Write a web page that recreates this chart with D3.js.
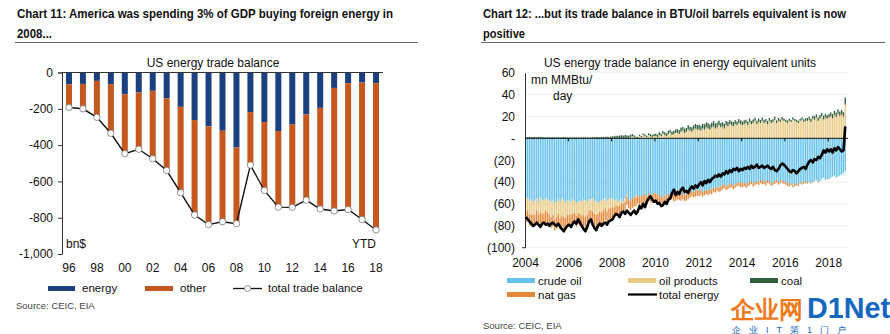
<!DOCTYPE html>
<html><head><meta charset="utf-8">
<script src="https://cdn.jsdelivr.net/npm/d3@7"></script>
<style>body{margin:0;background:#fff} text{font-family:Arial,"Liberation Sans",sans-serif;fill:#111}</style>
</head><body><svg id="c" width="890" height="334"></svg>
<script>
// ---------- Chart 11 data (bn$) ----------
const years = ['96','97','98','99','00','01','02','03','04','05','06','07','08','09','10','11','12','13','14','15','16','17','18'];
const energy = [-65,-63,-46,-64,-120,-110,-101,-143,-189,-262,-297,-321,-413,-218,-273,-323,-287,-231,-195,-85,-59,-55,-59];
const other  = [-128,-137,-201,-271,-327,-313,-374,-397,-473,-523,-541,-501,-420,-292,-377,-419,-456,-472,-557,-678,-696,-755,-809];
const totalTrade = [-193,-200,-247,-335,-447,-423,-475,-540,-662,-785,-838,-822,-833,-510,-650,-742,-743,-703,-752,-763,-755,-810,-868];
const leftTicks = [0,-200,-400,-600,-800,-1000];
const leftLabels = ['96','98','00','02','04','06','08','10','12','14','16','18'];

// ---------- Chart 12 data (mn MMBtu/day, monthly Jan 2004 - Oct 2018) ----------
const crude = [
-54,-55,-57,-56,-58,-57,-55,-58,-54,-56,-57,-55,
-56,-57,-58,-57,-59,-58,-56,-58,-55,-57,-59,-57,
-57,-58,-56,-57,-59,-58,-57,-58,-56,-57,-58,-56,
-56,-55,-58,-57,-59,-58,-57,-56,-55,-57,-56,-55,
-55,-57,-56,-58,-57,-56,-58,-55,-52,-56,-57,-55,
-54,-53,-52,-54,-53,-52,-51,-53,-50,-51,-52,-50,
-50,-51,-53,-52,-54,-53,-52,-51,-50,-49,-51,-50,
-49,-50,-51,-50,-52,-51,-50,-49,-48,-49,-48,-47,
-48,-47,-49,-48,-47,-48,-46,-47,-45,-46,-44,-45,
-44,-43,-42,-44,-43,-42,-41,-43,-42,-41,-40,-41,
-41,-40,-42,-41,-40,-39,-41,-40,-39,-40,-38,-39,
-39,-40,-38,-39,-41,-40,-39,-38,-40,-39,-38,-39,
-40,-41,-42,-41,-43,-42,-41,-42,-40,-41,-40,-39,
-40,-39,-41,-40,-39,-38,-40,-39,-37,-36,-38,-37,
-37,-36,-35,-34,-36,-35,-34,-33,-32,-30];
const products = [
-13,-11,-12,-14,-12,-13,-11,-12,-14,-13,-12,-11,
-12,-13,-14,-13,-15,-14,-13,-15,-16,-15,-14,-13,
-13,-12,-13,-11,-12,-10,-12,-13,-14,-15,-12,-10,
-10,-12,-11,-13,-10,-9,-11,-10,-9,-10,-8,-9,
-8,-6,-5,-4,-5,-3,-2,-3,-1,0,1,2,
1,-1,0,2,1,3,2,1,3,2,1,2,
2,1,3,2,4,3,2,4,5,3,4,5,
5,4,6,7,5,6,8,7,6,8,9,8,
8,7,9,8,10,9,8,10,11,9,10,12,
10,11,9,12,11,13,12,11,13,12,14,13,
12,13,14,12,15,13,14,16,13,15,14,16,
14,15,13,16,14,15,17,14,16,15,17,16,
15,14,16,15,17,16,15,14,16,17,15,16,
16,17,15,18,17,19,16,18,20,17,19,18,
19,20,18,21,19,22,20,21,19,30];
const natGas = [
-9.8,-10.2,-10.5,-9.6,-9.9,-10.4,-10.8,-10.1,-9.7,-10.3,-10.0,-10.6,
-10.4,-10.1,-9.8,-10.6,-10.2,-10.9,-11.2,-10.5,-9.4,-9.8,-10.7,-11.0,
-10.2,-9.9,-9.7,-10.3,-10.1,-10.6,-11.0,-10.8,-10.2,-9.9,-10.4,-10.7,
-11.2,-11.5,-10.8,-11.3,-11.6,-11.9,-12.1,-11.4,-10.9,-10.6,-10.2,-10.8,
-10.1,-9.8,-9.4,-9.0,-8.7,-8.9,-8.5,-8.2,-7.9,-8.3,-8.6,-8.8,
-8.4,-8.0,-7.6,-7.8,-7.3,-7.5,-7.9,-7.2,-7.0,-6.8,-7.4,-7.7,
-7.9,-7.5,-7.1,-6.8,-7.2,-6.9,-7.3,-7.0,-6.6,-6.4,-6.9,-7.2,
-6.8,-6.5,-6.1,-5.8,-5.5,-5.9,-5.6,-5.2,-5.0,-4.8,-5.3,-5.6,
-5.1,-4.7,-4.4,-4.2,-4.0,-4.3,-4.5,-4.1,-3.8,-3.6,-3.9,-4.2,
-4.0,-3.8,-3.5,-3.3,-3.6,-3.4,-3.7,-3.5,-3.2,-3.0,-3.3,-3.6,
-3.5,-3.8,-3.2,-2.9,-3.0,-2.8,-3.1,-2.9,-2.7,-2.6,-2.9,-3.1,
-3.0,-3.2,-2.8,-2.5,-2.4,-2.6,-2.7,-2.5,-2.3,-2.1,-2.4,-2.6,
-2.5,-2.3,-2.0,-1.8,-1.6,-1.9,-2.1,-1.8,-1.5,-1.3,-1.6,-1.8,
-1.4,-1.0,-0.6,-0.3,-0.2,-0.5,-0.4,-0.1,0.2,0.3,-0.2,-0.5,
-0.3,0.2,0.4,0.6,0.8,0.5,0.7,0.9,1.0,1.4];
const coal = [
1.2,1.0,1.3,1.1,1.4,1.2,1.0,1.3,1.1,1.2,1.0,0.9,
1.0,0.9,1.1,1.2,1.0,0.8,1.1,0.9,1.0,1.2,0.9,0.8,
0.8,0.9,0.7,1.0,0.9,0.8,0.7,0.9,1.0,0.8,0.9,0.7,
0.8,1.0,0.9,1.1,1.2,1.0,1.3,1.1,1.4,1.5,1.3,1.6,
1.8,2.0,2.4,2.2,2.6,2.8,2.5,3.0,2.7,2.5,2.2,2.0,
1.8,1.5,1.3,1.4,1.2,1.5,1.6,1.4,1.7,1.9,2.1,2.0,
2.2,2.4,2.6,2.3,2.8,2.5,2.7,3.0,2.8,3.1,2.9,3.2,
3.3,3.5,3.8,3.4,3.9,3.6,4.0,3.7,4.2,3.9,4.1,4.3,
4.4,4.6,4.2,4.8,4.5,5.0,4.7,4.3,4.9,4.6,4.4,4.2,
4.0,3.8,4.2,3.9,4.1,3.7,3.5,3.9,3.6,3.4,3.7,3.5,
3.3,3.5,3.1,3.4,3.2,3.0,3.3,2.9,3.1,3.2,2.8,3.0,
2.9,2.7,3.0,2.6,2.8,2.5,2.7,2.4,2.6,2.3,2.5,2.2,
2.1,2.3,2.0,1.9,2.2,1.8,2.0,2.1,1.9,2.2,2.4,2.3,
2.6,2.8,3.0,2.7,3.2,2.9,3.1,3.4,3.0,3.3,3.5,3.2,
3.4,3.6,3.9,3.5,3.8,4.1,3.7,4.0,3.9,6.0];
const totalEnergy = [
-72,-74,-76,-78,-80,-79,-77,-79,-81,-78,-77,-79,
-78,-80,-78,-77,-79,-80,-78,-81,-83,-85,-82,-80,
-79,-81,-78,-76,-78,-74,-77,-80,-83,-85,-81,-76,
-74,-79,-82,-84,-80,-78,-80,-78,-77,-79,-76,-75,
-74,-71,-69,-70,-72,-68,-67,-69,-66,-68,-70,-68,
-66,-69,-67,-62,-64,-60,-63,-58,-55,-53,-56,-58,
-57,-60,-59,-62,-61,-58,-60,-56,-55,-50,-47,-52,
-49,-51,-47,-45,-49,-48,-50,-46,-44,-46,-43,-45,
-42,-40,-43,-39,-41,-38,-40,-37,-36,-34,-35,-33,
-35,-32,-33,-30,-32,-29,-31,-28,-29,-27,-30,-28,
-29,-27,-28,-26,-28,-25,-27,-26,-24,-27,-26,-25,
-27,-26,-25,-27,-28,-26,-29,-30,-28,-25,-23,-24,
-26,-28,-30,-31,-29,-30,-32,-30,-28,-27,-26,-28,
-24,-21,-20,-22,-19,-20,-17,-18,-15,-11,-13,-10,
-12,-10,-13,-9,-11,-8,-10,-12,-11,11];
const rightTicks = [60,40,20,0,-20,-40,-60,-80,-100];
const rightYears = [2004,2006,2008,2010,2012,2014,2016,2018];

const svg = d3.select('#c');
svg.append('rect').attr('width',890).attr('height',334).attr('fill','#fff');

// ---------- headers ----------
function header(x, lines, widths, x2) {
  lines.forEach((t,i)=>svg.append('text').attr('x',x).attr('y',18+i*20).attr('font-size',12.5).attr('font-weight','bold')
    .attr('textLength',widths[i]).attr('lengthAdjust','spacingAndGlyphs').text(t));
  svg.append('line').attr('x1',x-2).attr('x2',x2).attr('y1',42.5).attr('y2',42.5).attr('stroke','#666').attr('stroke-width',1);
}
header(17,['Chart 11: America was spending 3% of GDP buying foreign energy in','2008...'],[376,35],418);
header(483,['Chart 12: ...but its trade balance in BTU/oil barrels equivalent is now','positive'],[363,42],885);

// ---------- Chart 11 ----------
const C1 = {blue:'#1B3F7F', orange:'#C4581F'};
const x1 = d3.scaleBand().domain(years).range([62,383]).paddingInner(0.57).paddingOuter(0.285);
const y1 = d3.scaleLinear().domain([-1000,0]).range([254,72.5]);
const g1 = svg.append('g');
svg.append('text').attr('x',213).attr('y',67).attr('text-anchor','middle').attr('font-size',12).text('US energy trade balance');

const rows1 = years.map((yr,i)=>({yr, e:energy[i], o:other[i], t:totalTrade[i]}));
g1.selectAll('.eb').data(rows1).join('rect').attr('x',d=>x1(d.yr)).attr('width',x1.bandwidth())
  .attr('y',y1(0)).attr('height',d=>y1(d.e)-y1(0)).attr('fill',C1.blue);
g1.selectAll('.ob').data(rows1).join('rect').attr('x',d=>x1(d.yr)).attr('width',x1.bandwidth())
  .attr('y',d=>y1(d.e)).attr('height',d=>y1(d.e+d.o)-y1(d.e)).attr('fill',C1.orange);

const fmt1 = d=>d3.format(',')(d).replace('\u2212','-');
const ax1 = g1.append('g').attr('transform','translate(62,0)').call(d3.axisLeft(y1).tickValues(leftTicks).tickFormat(fmt1).tickSize(4).tickPadding(5));
ax1.select('.domain').attr('stroke','#333');
ax1.selectAll('.tick line').attr('stroke','#333');
ax1.selectAll('text').attr('font-size',12).attr('font-family','Arial, Liberation Sans').attr('fill','#111');
g1.append('line').attr('x1',62).attr('x2',383).attr('y1',y1(0)).attr('y2',y1(0)).attr('stroke','#333');

const axb1 = g1.append('g').attr('transform','translate(0,258)').call(d3.axisBottom(x1).tickValues(leftLabels).tickSize(0).tickPadding(5));
axb1.select('.domain').remove();
axb1.selectAll('text').attr('font-size',12).attr('font-family','Arial, Liberation Sans').attr('fill','#111');

const line1 = d3.line().x(d=>x1(d.yr)+x1.bandwidth()/2).y(d=>y1(d.t));
g1.append('path').datum(rows1).attr('d',line1).attr('fill','none').attr('stroke','#111').attr('stroke-width',1.4);
g1.selectAll('.pt').data(rows1).join('circle').attr('cx',d=>x1(d.yr)+x1.bandwidth()/2).attr('cy',d=>y1(d.t)).attr('r',3.2)
  .attr('fill','#fff').attr('stroke','#777').attr('stroke-width',0.8);

svg.append('text').attr('x',66).attr('y',248).attr('font-size',12).text('bn$');
svg.append('text').attr('x',376).attr('y',248).attr('text-anchor','end').attr('font-size',12).text('YTD');

// legend 1
svg.append('rect').attr('x',48).attr('y',286).attr('width',27).attr('height',5).attr('fill',C1.blue);
svg.append('text').attr('x',82).attr('y',292).attr('font-size',11.5).text('energy');
svg.append('rect').attr('x',145).attr('y',286).attr('width',28).attr('height',5).attr('fill',C1.orange);
svg.append('text').attr('x',180).attr('y',292).attr('font-size',11.5).text('other');
svg.append('line').attr('x1',233).attr('x2',262).attr('y1',288.5).attr('y2',288.5).attr('stroke','#111').attr('stroke-width',1.3);
svg.append('circle').attr('cx',247.5).attr('cy',288.5).attr('r',3).attr('fill','#fff').attr('stroke','#777').attr('stroke-width',0.8);
svg.append('text').attr('x',268).attr('y',292).attr('font-size',11.5).text('total trade balance');
svg.append('text').attr('x',16).attr('y',309).attr('font-size',9.5).attr('style','fill:#444').text('Source: CEIC, EIA');

// ---------- Chart 12 ----------
const C2 = {crude:'#66C2EC', products:'#E9CB86', natGas:'#E3873A', coal:'#2E5E3B'};
const months = d3.range(crude.length).map(i=>new Date(2004,i,1));
const x2 = d3.scaleTime().domain([new Date(2004,0,1), new Date(2018,11,1)]).range([525,848]);
const y2 = d3.scaleLinear().domain([-100,60]).range([247.7,72.7]);
const g2 = svg.append('g');
svg.append('text').attr('x',680).attr('y',67).attr('text-anchor','middle').attr('font-size',12).text('US energy trade balance in energy equivalent units');

// gridlines
g2.selectAll('.gl').data(rightTicks.filter(d=>d!==0)).join('line').attr('x1',525).attr('x2',848)
  .attr('y1',d=>y2(d)).attr('y2',d=>y2(d)).attr('stroke','#eeeeee');

const rows2 = months.map((m,i)=>({m, crude:crude[i], products:products[i], natGas:natGas[i], coal:coal[i], total:totalEnergy[i]}));
const keys = ['crude','products','natGas','coal'];
const stack = d3.stack().keys(keys).offset(d3.stackOffsetDiverging)(rows2);
stack.forEach(s=>{
  g2.selectAll('.b'+s.key).data(s).join('rect')
    .attr('x',d=>x2(d.data.m)+0.2)
    .attr('width',d=>Math.max(0.6,(x2(d3.timeMonth.offset(d.data.m,1))-x2(d.data.m))*0.72))
    .attr('y',d=>y2(Math.max(d[0],d[1])))
    .attr('height',d=>Math.abs(y2(d[0])-y2(d[1])))
    .attr('fill',C2[s.key]);
});

const fmt2 = d=> d>0 ? String(d) : d<0 ? '('+(-d)+')' : '-';
const ax2 = g2.append('g').attr('transform','translate(525,0)').call(d3.axisLeft(y2).tickValues(rightTicks).tickFormat(fmt2).tickSize(0).tickPadding(10));
ax2.select('.domain').attr('stroke','#333');
ax2.selectAll('text').attr('font-size',12).attr('font-family','Arial, Liberation Sans').attr('fill','#111');
g2.append('line').attr('x1',522).attr('x2',525).attr('y1',y2(-100)).attr('y2',y2(-100)).attr('stroke','#333');

// zero line with ticks
g2.append('line').attr('x1',525).attr('x2',848).attr('y1',y2(0)).attr('y2',y2(0)).attr('stroke','#111').attr('stroke-width',1);
g2.selectAll('.zt').data(rightYears.slice(1)).join('line').attr('x1',d=>x2(new Date(d,0,1))).attr('x2',d=>x2(new Date(d,0,1)))
  .attr('y1',y2(0)).attr('y2',y2(0)+3).attr('stroke','#111');

const line2 = d3.line().x(d=>x2(d.m)+0.9).y(d=>y2(d.total));
g2.append('path').datum(rows2).attr('d',line2).attr('fill','none').attr('stroke','#000').attr('stroke-width',2.6).attr('stroke-linejoin','round');

const axb2 = g2.append('g').attr('transform','translate(0,254)').call(d3.axisBottom(x2).tickValues(rightYears.map(y=>new Date(y,0,1))).tickFormat(d3.timeFormat('%Y')).tickSize(0).tickPadding(4));
axb2.select('.domain').remove();
axb2.selectAll('text').attr('font-size',12).attr('font-family','Arial, Liberation Sans').attr('fill','#111');

svg.append('text').attr('x',531).attr('y',84).attr('font-size',12).text('mn MMBtu/');
svg.append('text').attr('x',553).attr('y',100).attr('font-size',12).text('day');

// legend 2
function sw(x,y,c,t){svg.append('rect').attr('x',x).attr('y',y-2.5).attr('width',28).attr('height',5).attr('fill',c);
  svg.append('text').attr('x',x+31).attr('y',y+4).attr('font-size',11.5).text(t);}
sw(507,280.5,C2.crude,'crude oil');
sw(628,280.5,C2.products,'oil products');
sw(750,280.5,C2.coal,'coal');
sw(507,294.5,C2.natGas,'nat gas');
svg.append('line').attr('x1',628).attr('x2',657).attr('y1',294.5).attr('y2',294.5).attr('stroke','#000').attr('stroke-width',2.2);
svg.append('text').attr('x',659).attr('y',298.5).attr('font-size',11.5).text('total energy');
svg.append('text').attr('x',483).attr('y',329).attr('font-size',9.5).attr('style','fill:#444').text('Source: CEIC, EIA');

// watermark
svg.append('text').attr('x',731).attr('y',318).attr('font-size',24).attr('font-weight','bold').attr('font-family','Noto Sans CJK SC')
  .attr('textLength',72).attr('lengthAdjust','spacingAndGlyphs').attr('style','fill:#F07A1A').text('企业网');
svg.append('text').attr('x',807).attr('y',318).attr('font-size',29).attr('font-weight','bold').attr('font-family','Arial, Liberation Sans')
  .attr('textLength',83).attr('lengthAdjust','spacingAndGlyphs').attr('style','fill:#1466C0').text('D1Net');
svg.append('text').attr('x',732).attr('y',333).attr('font-size',9).attr('font-family','Noto Sans CJK SC').attr('style','fill:#1466C0;letter-spacing:8px').text('企业IT第1门户');
</script></body></html>
